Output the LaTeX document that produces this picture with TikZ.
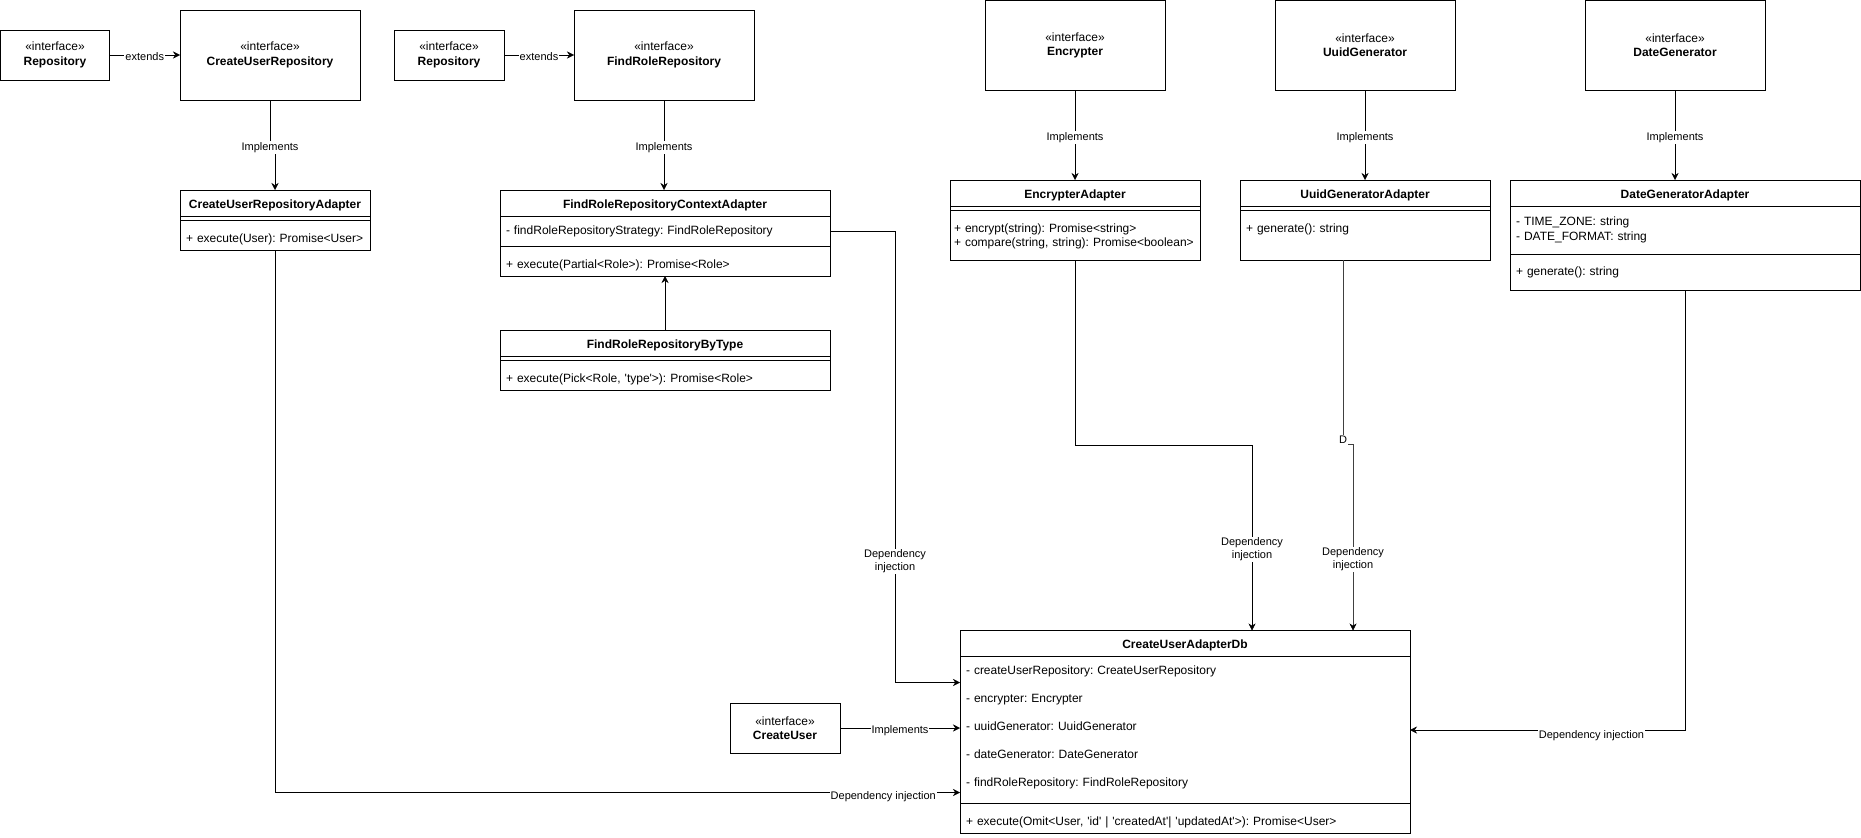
\documentclass[tikz,border=0pt]{standalone}
\usepackage{fontspec}
\setmainfont{Liberation Sans}
\usepackage{tikz}
\usetikzlibrary{arrows.meta, positioning}
\frenchspacing

\begin{document}
\begin{tikzpicture}[
    x=1pt, y=-1pt,
    every node/.style={outer sep=0pt, font=\fontsize{12}{14.4}\selectfont},
    iface/.style={rectangle, draw, anchor=north west, align=center},
    head/.style={rectangle, draw, anchor=north west, minimum height=26pt, inner sep=0pt, text height=13pt, text depth=2.5pt, font=\fontsize{12}{14.4}\selectfont\bfseries},
    sect/.style={rectangle, draw, below=0pt of #1, inner xsep=6pt, inner ysep=0pt, align=left},
    meth/.style={text height=17pt},
    arrow/.style={-{Stealth[length=7pt, width=7pt]}},
    lbl/.style={fill=white, inner sep=1pt, yshift=-2.5pt, font=\fontsize{11}{13}\selectfont}
]
\useasboundingbox (0,0) rectangle (1861,838);

% Interfaces
\node[iface, minimum width=109pt, minimum height=50pt] (repoA) at (0.5,30) {«interface»\\\textbf{Repository}};
\node[iface, minimum width=180pt, minimum height=90pt] (cuRepo) at (180,10) {«interface»\\\textbf{CreateUserRepository}};
\node[iface, minimum width=110pt, minimum height=50pt] (repoB) at (394,30) {«interface»\\\textbf{Repository}};
\node[iface, minimum width=180pt, minimum height=90pt] (findRepo) at (574,10) {«interface»\\\textbf{FindRoleRepository}};
\node[iface, minimum width=180pt, minimum height=89.5pt] (encrypter) at (985,0.5) {«interface»\\\textbf{Encrypter}};
\node[iface, minimum width=180pt, minimum height=89.5pt] (uuid) at (1275,0.5) {«interface»\\\textbf{UuidGenerator}};
\node[iface, minimum width=180pt, minimum height=89.5pt] (dateGen) at (1585,0.5) {«interface»\\\textbf{DateGenerator}};
\node[iface, minimum width=110pt, minimum height=50pt] (createUser) at (730,703) {«interface»\\\textbf{CreateUser}};

% CreateUserRepositoryAdapter
\node[head, minimum width=190pt] (cuAdapter) at (180,190) {CreateUserRepositoryAdapter};
\node[sect=cuAdapter, minimum width=190pt, minimum height=4pt] (cuAdapterA) {};
\node[sect=cuAdapterA, meth, text width=178pt, minimum height=30pt] (cuAdapterM) {+ execute(User): Promise<User>};

% FindRoleRepositoryContextAdapter
\node[head, minimum width=330pt] (ctx) at (500,190) {FindRoleRepositoryContextAdapter};
\node[sect=ctx, text width=318pt, minimum height=30pt] (ctxA) {- findRoleRepositoryStrategy: FindRoleRepository};
\node[sect=ctxA, meth, text width=318pt, minimum height=30pt] (ctxM) {+ execute(Partial<Role>): Promise<Role>};

% FindRoleRepositoryByType
\node[head, minimum width=330pt] (byType) at (500,330) {FindRoleRepositoryByType};
\node[sect=byType, minimum width=330pt, minimum height=4pt] (byTypeA) {};
\node[sect=byTypeA, meth, text width=318pt, minimum height=30pt] (byTypeM) {+ execute(Pick<Role, \textquotesingle type\textquotesingle>): Promise<Role>};

% EncrypterAdapter
\node[head, minimum width=250pt] (encAdapter) at (950,180) {EncrypterAdapter};
\node[sect=encAdapter, minimum width=250pt, minimum height=4pt] (encA) {};
\node[sect=encA, inner xsep=4pt, text width=242pt, minimum height=50pt, text height=11pt] (encM) {+ encrypt(string): Promise<string>\\+ compare(string, string): Promise<boolean>};

% UuidGeneratorAdapter
\node[head, minimum width=250pt] (uuidAdapter) at (1240,180) {UuidGeneratorAdapter};
\node[sect=uuidAdapter, minimum width=250pt, minimum height=4pt] (uuidA) {};
\node[sect=uuidA, text width=238pt, minimum height=50pt] (uuidM) {+ generate(): string\\\mbox{}};

% DateGeneratorAdapter
\node[head, minimum width=350pt] (dateAdapter) at (1510,180) {DateGeneratorAdapter};
\node[sect=dateAdapter, text width=338pt, minimum height=48pt] (dateA) {- TIME\_ZONE: string\\- DATE\_FORMAT: string};
\node[sect=dateA, text width=338pt, minimum height=36pt] (dateM) {+ generate(): string};

% CreateUserAdapterDb
\node[head, minimum width=450pt] (db) at (960,630.5) {CreateUserAdapterDb};
\node[sect=db, text width=438pt, minimum height=147pt, font=\fontsize{12}{28}\selectfont] (dbA) {- createUserRepository: CreateUserRepository\\- encrypter: Encrypter\\- uuidGenerator: UuidGenerator\\- dateGenerator: DateGenerator\\- findRoleRepository: FindRoleRepository\\[-20.5pt]\mbox{}};
\node[sect=dbA, meth, text width=438pt, minimum height=30pt] (dbM) {+ execute(Omit<User, \textquotesingle id\textquotesingle{} | \textquotesingle createdAt\textquotesingle| \textquotesingle updatedAt\textquotesingle>): Promise<User>};

% Extends
\draw[arrow] (repoA) -- node[lbl, yshift=1.3pt] {extends} (cuRepo);
\draw[arrow] (repoB) -- node[lbl, yshift=1.3pt] {extends} (findRepo);

% Implements
\draw[arrow] (cuRepo.south) -- ++(0,45) node[lbl] {Implements} -| (cuAdapter.north);
\draw[arrow] (findRepo.south) -- node[lbl] {Implements} (findRepo.south |- ctx.north);
\draw[arrow] (byType) -- (ctxM);
\draw[arrow] (encrypter) -- node[lbl] {Implements} (encAdapter);
\draw[arrow] (uuid) -- node[lbl] {Implements} (uuidAdapter);
\draw[arrow] (dateGen.south) -- node[lbl] {Implements} (dateGen.south |- dateAdapter.north);
\draw[arrow] (createUser) -- node[lbl] {Implements} (createUser -| dbA.west);

% Dependency injection
\draw[arrow] (ctxA.east) -| ++(65,327) node[lbl, align=center, yshift=-1pt] {Dependency\\injection} |- ([yshift=-26pt]dbA.north west);
\draw[arrow] (encM.south) |- ++(177,185) -- node[lbl, align=center, pos=0.55] {Dependency\\injection} ([xshift=67pt]db.north);
\draw[-{Stealth[length=7pt, width=7pt, color=black]}, draw=black!75] ([xshift=-22pt]uuidM.south) -- ++(0,184) node[lbl, yshift=6.5pt] {D} -- ++(10,0) -- node[lbl, align=center, pos=0.6, yshift=-1pt] {Dependency\\injection} ([xshift=168pt]db.north);
\draw[arrow] (dateM.south) |- node[lbl, pos=0.67, yshift=-3pt] {Dependency injection} (dbA.east);
\draw[arrow] (cuAdapterM.south) |- node[lbl, pos=0.944, yshift=-1.7pt] {Dependency injection} ([yshift=-136pt]dbA.north west);

\end{tikzpicture}
\end{document}
